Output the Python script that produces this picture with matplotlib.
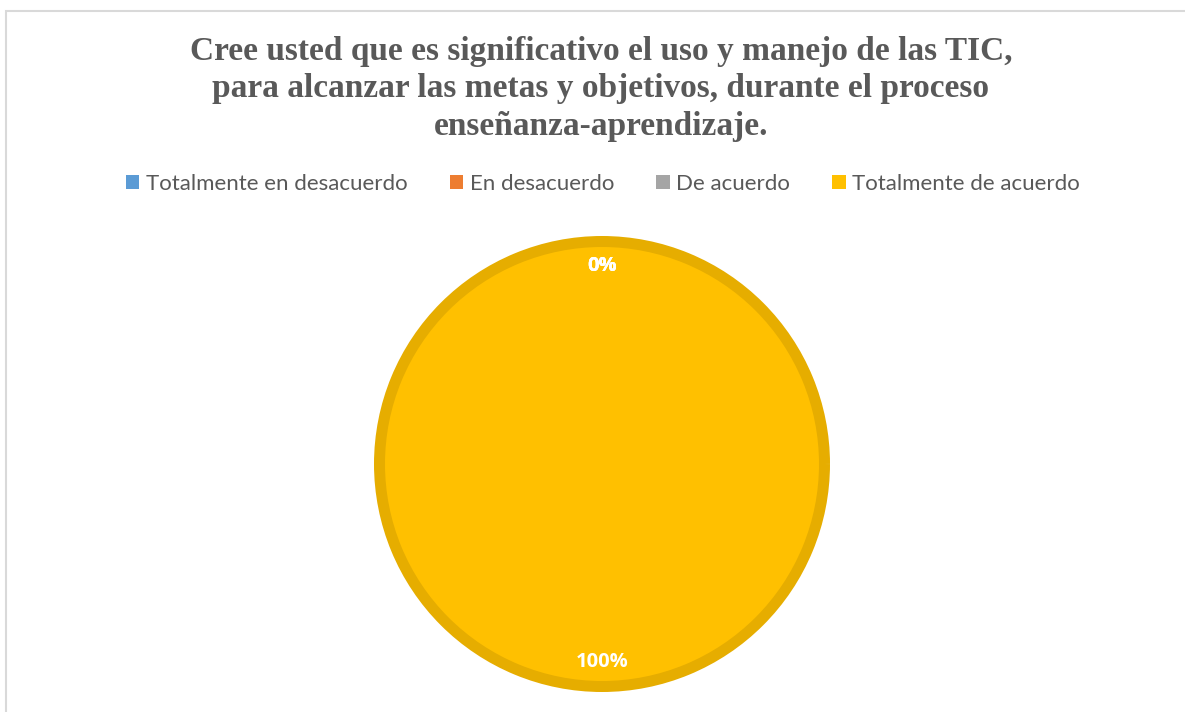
import matplotlib
matplotlib.use("Agg")
import matplotlib.pyplot as plt
from matplotlib.patches import Rectangle, Patch

# Data
categories = ["Totalmente en desacuerdo", "En desacuerdo", "De acuerdo", "Totalmente de acuerdo"]
values = [0, 0, 0, 100]
colors = ["#5B9BD5", "#ED7D31", "#A5A5A5", "#FFC000"]
title = ("Cree usted que es significativo el uso y manejo de las TIC,\n"
         "para alcanzar las metas y objetivos, durante el proceso\n"
         "enseñanza-aprendizaje.")

W, H = 1185, 712
fig = plt.figure(figsize=(W / 100, H / 100), dpi=100)

# light frame of the chart area (right/bottom edges fall outside the image)
fig.patches.append(Rectangle((5.5 / W, -0.1), 1.2, 1 - 10.5 / H + 0.1,
                             transform=fig.transFigure, fill=False,
                             edgecolor="#D9D9D9", linewidth=1.5))

fig.text(601 / W, 1 - 89 / H, title, ha="center", va="center",
         family="Liberation Serif", weight="bold", fontsize=24,
         color="#595959", linespacing=1.26)

# pie axes, square, centred at (602, 464) px, radius 228 px
cx, cy, r = 602, 464, 228
ax = fig.add_axes([(cx - r) / W, (H - cy - r) / H, 2 * r / W, 2 * r / H])
edge_w = 11  # px
wedges, texts, autotexts = ax.pie(
    values, colors=colors, startangle=90, counterclock=False,
    radius=1 - (edge_w / 2) / r, autopct="%1.0f%%", pctdistance=0.87 / (1 - (edge_w / 2) / r),
    wedgeprops=dict(edgecolor="#E6AD00", linewidth=edge_w * 0.72),
    textprops=dict(color="white", fontsize=14.5, weight="bold", family="Open Sans"))
for w, v in zip(wedges, values):
    if v == 0:
        w.set_linewidth(0)
ax.set_xlim(-1, 1)
ax.set_ylim(-1, 1)
ax.set_aspect("equal")
ax.axis("off")

handles = [Patch(facecolor=c, edgecolor="none") for c in colors]
fig.legend(handles, categories, loc="center", bbox_to_anchor=(603 / W, 1 - 184 / H),
           ncol=4, frameon=False, handlelength=0.6, handleheight=0.6,
           handletextpad=0.3, columnspacing=1.9,
           prop=dict(family="Lato", size=16), labelcolor="#595959")

fig.savefig("out.png", dpi=100)
